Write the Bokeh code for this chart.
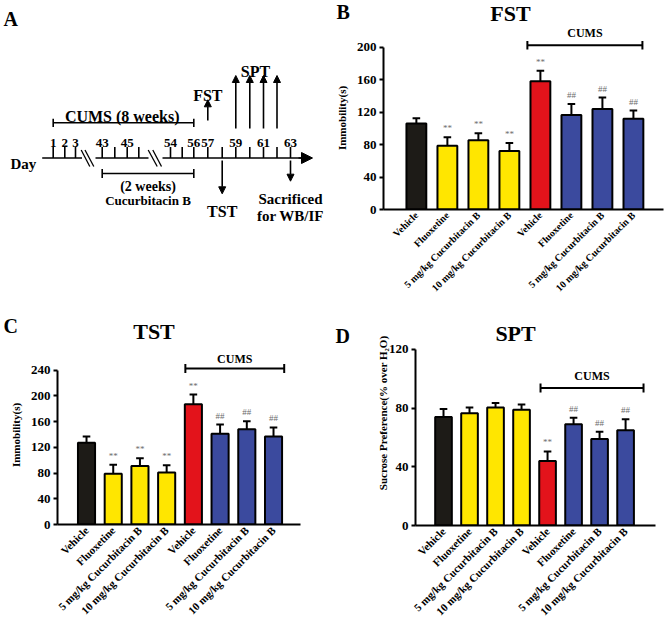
import math
from bokeh.plotting import figure
from bokeh.models import Range1d, FixedTicker, Arrow, NormalHead
from bokeh.layouts import column, row
from bokeh.embed import file_html
from bokeh.resources import INLINE
from bokeh.core.properties import value

FONT = "Liberation Serif"

# ---------------- data ----------------
groups = ["Vehicle", "Fluoxetine", "5 mg/kg Cucurbitacin B", "10 mg/kg Cucurbitacin B",
          "Vehicle", "Fluoxetine", "5 mg/kg Cucurbitacin B", "10 mg/kg Cucurbitacin B"]
bar_colors = ["#1d1b17", "#ffe600", "#ffe600", "#ffe600",
              "#e3131b", "#3b4a9e", "#3b4a9e", "#3b4a9e"]
fst_tst_marks = ["", "**", "**", "**", "**", "##", "##", "##"]
spt_marks = ["", "", "", "", "**", "##", "##", "##"]

fst_mean = [106, 78.5, 85.5, 72, 158, 116.5, 124, 112]
fst_err = [6.5, 10.5, 8.5, 10, 13, 13.5, 14, 10]
tst_mean = [127, 79, 91, 81, 187, 141, 148, 137]
tst_err = [10, 14, 12, 11, 15, 14.5, 12.5, 14]
spt_mean = [74, 76.5, 80.5, 79, 44, 69, 59, 65]
spt_err = [5.5, 4, 3, 3.5, 6.5, 4.5, 5, 7.5]

fst_ticks = [0, 40, 80, 120, 160, 200]
tst_ticks = [0, 40, 80, 120, 160, 200, 240]
spt_ticks = [0, 40, 80, 120]

# timeline (panel A)
tick_days = [1, 2, 3, 43, 44, 45, 46, 54, 55, 56, 57, 58, 59, 60, 61, 62, 63]
tick_pos = [52.7, 64.3, 75, 101.7, 114.3, 126.7, 138.3, 170, 181.7, 193.3,
            207.3, 221.7, 235.3, 249.3, 263, 276.5, 290]
labelled_days = [1, 2, 3, 43, 45, 54, 56, 57, 59, 61, 63]
spt_days = [59, 60, 61, 62]


def blank(width, height):
    f = figure(width=width, height=height, output_backend="svg", toolbar_location=None,
               x_range=Range1d(0, width), y_range=Range1d(height, 0),
               x_axis_type=None, y_axis_type=None, min_border=0)
    f.frame_align = False
    f.outline_line_color = None
    f.xgrid.visible = False
    f.ygrid.visible = False
    return f


def txt(f, x, y, s, size, align="center", baseline="alphabetic"):
    f.text(x=x, y=y, text=s, text_font=value(FONT), text_font_size=size,
           text_font_style="bold", text_align=align, text_baseline=baseline,
           text_color="black")


def header(width, height, letter, lx, ly, title, tx, ty):
    h = blank(width, height)
    txt(h, [lx], [ly], [letter], "20px", align="left", baseline="middle")
    txt(h, [tx], [ty], [title], "22px", align="center", baseline="middle")
    return h


def make_bar_panel(means, errs, marks, ylabel, yticks, y_end, x_start, x_end,
                   width, height, bl, br, bb, bracket, cums_y, xfont,
                   title=None, label_standoff=6):
    p = figure(width=width, height=height, output_backend="svg", toolbar_location=None,
               x_range=Range1d(x_start, x_end), y_range=Range1d(0, y_end),
               min_border_left=bl, min_border_right=br, min_border_bottom=bb,
               min_border_top=0)
    p.frame_align = False
    p.outline_line_color = None
    p.xgrid.visible = False
    p.ygrid.visible = False
    frame_h = height - bb
    frame_w = width - bl - br
    pyu = frame_h / y_end
    pxu = frame_w / (x_end - x_start)

    xs = list(range(len(means)))
    tops = [m + e for m, e in zip(means, errs)]
    p.segment(x0=xs, y0=means, x1=xs, y1=tops, line_color="black", line_width=2)
    cw = 3.8 / pxu
    p.segment(x0=[x - cw for x in xs], y0=tops, x1=[x + cw for x in xs], y1=tops,
              line_color="black", line_width=2)
    p.vbar(x=xs, top=means, bottom=0, width=0.64, fill_color=bar_colors,
           line_color="black", line_width=2)
    p.text(x=xs, y=tops, text=marks, text_font=value(FONT), text_font_size="9px",
           text_color="#6b6b6b", text_align="center", text_baseline="middle", y_offset=-9)

    bx0, bx1, by = bracket
    th = 4.5 / pyu
    p.segment(x0=[bx0, bx0, bx1], y0=[by, by - th, by - th],
              x1=[bx1, bx0, bx1], y1=[by, by + th, by + th],
              line_color="black", line_width=2)
    p.text(x=[(bx0 + bx1) / 2], y=[cums_y], text=["CUMS"], text_font=value(FONT),
           text_font_size="12px", text_font_style="bold", text_align="center",
           text_baseline="middle", text_color="black")
    if title is not None:
        ttext, tx_, ty_ = title
        p.text(x=[tx_], y=[ty_], text=[ttext], text_font=value(FONT),
               text_font_size="22px", text_font_style="bold", text_align="center",
               text_baseline="middle", text_color="black")

    xa = p.xaxis[0]
    xa.ticker = FixedTicker(ticks=xs)
    xa.major_label_overrides = {i: g for i, g in enumerate(groups)}
    xa.major_label_orientation = math.pi / 4
    xa.major_tick_out = 0
    xa.major_tick_in = 0
    xa.minor_tick_out = 0
    xa.minor_tick_in = 0
    xa.axis_line_width = 2
    xa.axis_line_color = "black"
    xa.major_label_text_font = FONT
    xa.major_label_text_font_style = "bold"
    xa.major_label_text_font_size = xfont
    xa.major_label_text_color = "black"
    xa.major_label_standoff = 4

    ya = p.yaxis[0]
    ya.ticker = FixedTicker(ticks=yticks)
    ya.bounds = (0, yticks[-1])
    ya.axis_line_width = 2
    ya.axis_line_color = "black"
    ya.major_tick_out = 4
    ya.major_tick_in = 0
    ya.major_tick_line_width = 2
    ya.minor_tick_out = 0
    ya.minor_tick_in = 0
    ya.major_label_text_font = FONT
    ya.major_label_text_font_style = "bold"
    ya.major_label_text_font_size = "13px"
    ya.major_label_text_color = "black"
    ya.major_label_standoff = 3
    ya.axis_label = ylabel
    ya.axis_label_text_font = FONT
    ya.axis_label_text_font_style = "bold"
    ya.axis_label_text_font_size = "11px"
    ya.axis_label_text_color = "black"
    ya.axis_label_standoff = label_standoff
    return p


def arrow(f, x, y0, y1, size=7):
    f.add_layout(Arrow(end=NormalHead(size=size, fill_color="black", line_color="black",
                                      line_width=1),
                       x_start=x, y_start=y0, x_end=x, y_end=y1,
                       line_color="black", line_width=1.6))


# ---------------- panel A: timeline ----------------
a = blank(330, 300)
LW = 1.6
line_y = 157.5
a.segment(x0=[41.7, 95, 162], y0=[line_y] * 3, x1=[81.5, 148, 302], y1=[line_y] * 3,
          line_color="black", line_width=LW)
a.add_layout(Arrow(end=NormalHead(size=11, fill_color="black", line_color="black", line_width=1),
                   x_start=298, y_start=line_y, x_end=312, y_end=line_y,
                   line_color="black", line_width=LW))
a.segment(x0=[80.7, 84.5, 147.7, 152.3], y0=[149.5] * 4,
          x1=[89.3, 93.3, 156.7, 161], y1=[166] * 4, line_color="black", line_width=1.3)
a.segment(x0=tick_pos, y0=[146.5] * len(tick_pos), x1=tick_pos, y1=[line_y] * len(tick_pos),
          line_color="black", line_width=LW)
lab_x = [tick_pos[tick_days.index(dd)] for dd in labelled_days]
txt(a, lab_x, [142] * len(lab_x), [str(dd) for dd in labelled_days], "13px")
txt(a, [10], [163], ["Day"], "15px", align="left")
cx0, cx1 = tick_pos[0], tick_pos[tick_days.index(56)]
a.segment(x0=[cx0, cx0, cx1], y0=[122.3, 118.3, 118.3], x1=[cx1, cx0, cx1], y1=[122.3, 126.5, 126.5],
          line_color="black", line_width=LW)
txt(a, [121.7], [116], ["CUMS (8 weeks)"], "16px")
dx0, dx1 = tick_pos[tick_days.index(43)], tick_pos[tick_days.index(56)]
a.segment(x0=[dx0, dx0, dx1], y0=[173, 168.5, 168.5], x1=[dx1, dx0, dx1], y1=[173, 177.5, 177.5],
          line_color="black", line_width=LW)
txt(a, [147.5], [185.5], ["(2 weeks)"], "14px")
txt(a, [147.5], [200], ["Cucurbitacin B"], "13px")
fx = tick_pos[tick_days.index(57)]
arrow(a, fx, 120, 99.3)
txt(a, [fx], [95], ["FST"], "16px")
for dday in spt_days:
    arrow(a, tick_pos[tick_days.index(dday)], 128, 75)
txt(a, [255], [70.5], ["SPT"], "16px")
tx = tick_pos[tick_days.index(58)]
arrow(a, tx, 160, 193.3)
txt(a, [tx], [211], ["TST"], "16px")
ex = tick_pos[tick_days.index(63)]
arrow(a, ex, 160, 180.7)
txt(a, [ex, ex], [198, 215], ["Sacrificed", "for WB/IF"], "15px")
txt(a, [3], [18.5], ["A"], "20px", align="left")

# ---------------- panels B, C, D ----------------
bh = header(336, 26, "B", 6, 11.5, "FST", 180, 12.5)
b = make_bar_panel(fst_mean, fst_err, fst_tst_marks, "Immobility(s)", fst_ticks,
                   225.6, -1.06, 7.97, 336, 274, 53, 3, 83, (3.58, 7.29, 202.5), 217.3, "10px")
ch = header(330, 45, "C", 3, 25, "TST", 153.5, 31)
c = make_bar_panel(tst_mean, tst_err, fst_tst_marks, "Immobility(s)", tst_ticks,
                   278.4, -1.086, 8.01, 330, 279, 57, 30, 100, (3.7, 7.4, 242.6), 257, "11px")
dl = blank(20, 324)
txt(dl, [5], [35], ["D"], "20px", align="left", baseline="middle")
d = make_bar_panel(spt_mean, spt_err, spt_marks,
                   "Sucrose Preference(% over H\u2082O)", spt_ticks,
                   153.4, -1.077, 8.15, 316, 324, 65, 11, 99, (3.73, 7.69, 93.8), 101.6, "11px",
                   title=("SPT", 2.77, 131.2), label_standoff=-3)

layout = column(row(a, column(bh, b)), row(column(ch, c), dl, d))
open("out.html", "w").write(file_html(layout, INLINE))
